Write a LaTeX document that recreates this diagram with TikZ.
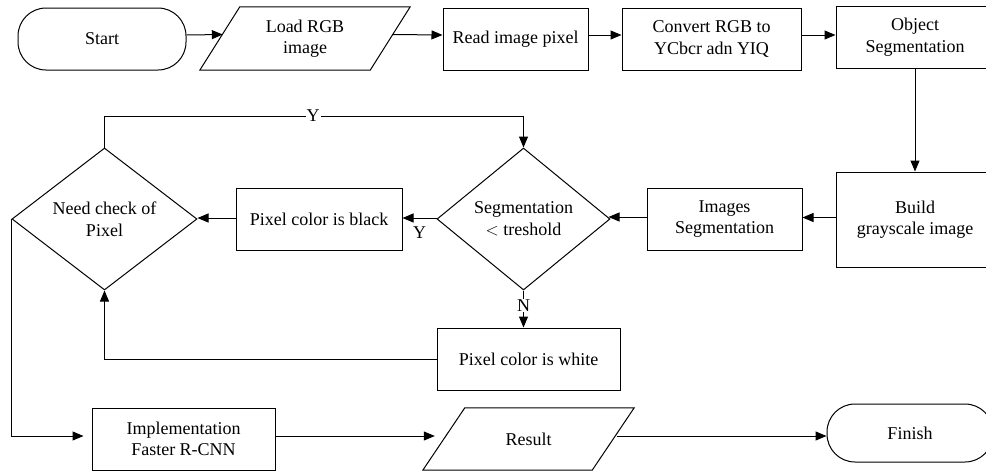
\documentclass[tikz,border=0pt]{standalone}
\usepackage{fontspec}
\setmainfont{Liberation Serif}
\usetikzlibrary{shapes.geometric,arrows.meta,calc}
\begin{document}
\begin{tikzpicture}[x=1pt,y=-1pt,
  every node/.style={font=\fontsize{18}{21.5}\selectfont, align=center},
  box/.style={draw, line width=1pt, rectangle, inner sep=0pt},
  term/.style={draw, line width=1pt, rectangle, rounded corners=28pt, inner sep=0pt},
  pbase/.style={rectangle, inner sep=0pt},
  dia/.style={draw, line width=1pt, diamond, inner sep=0pt, shape aspect=1.22},
  arr/.style={line width=1pt, -{Triangle[length=11pt,width=9pt]}},
  ln/.style={line width=1pt},
  lab/.style={fill=white, inner sep=1pt}]
\useasboundingbox (0,0) rectangle (986,472);
% top row
\node[term, minimum width=168pt, minimum height=62pt] (start) at (102,39) {Start};
\node[pbase, minimum width=170pt, minimum height=63pt] (load) at (305,38.5) {Load RGB\\image};
\draw[ln] ($(load.north west)+(20,0)$) -- ($(load.north east)+(20,0)$) -- ($(load.south east)+(-20,0)$) -- ($(load.south west)+(-20,0)$) -- cycle;
\node[box, minimum width=145pt, minimum height=62pt] (read) at (515.5,39) {Read image pixel};
\node[box, minimum width=179pt, minimum height=62pt] (conv) at (711.5,39) {Convert RGB to\\YCbcr adn YIQ};
\node[box, minimum width=158pt, minimum height=62pt] (obj) at (915,37) {Object\\Segmentation};
% middle row
\node[box, minimum width=158pt, minimum height=95pt] (build) at (915,219.5) {Build\\grayscale image};
\node[box, minimum width=155pt, minimum height=62pt] (imgs) at (724.5,219) {Images\\Segmentation};
\node[dia, minimum width=173pt, minimum height=142pt] (seg) at (523.5,219) {Segmentation\\$<$ treshold};
\node[box, minimum width=166pt, minimum height=62pt] (black) at (319,219) {Pixel color is black};
\node[dia, minimum width=185pt, minimum height=142pt] (need) at (104.5,219) {Need check of\\Pixel};
\node[box, minimum width=183pt, minimum height=62pt] (white) at (528.5,359) {Pixel color is white};
% bottom row
\node[box, minimum width=183pt, minimum height=62pt] (impl) at (183.5,439) {Implementation\\Faster R-CNN};
\node[pbase, minimum width=169pt, minimum height=62pt] (res) at (528.5,439) {Result};
\draw[ln] ($(res.north west)+(21,0)$) -- ($(res.north east)+(21,0)$) -- ($(res.south east)+(-21,0)$) -- ($(res.south west)+(-21,0)$) -- cycle;
\node[term, minimum width=166pt, minimum height=58pt] (fin) at (910,433) {Finish};
% connectors
\draw[arr] ($(start.east)+(0,-4)$) -- ($(load.west)+(3,-4)$);
\draw[arr] ($(load.east)+(2,-4)$) -- ($(read.west)+(0,-4)$);
\draw[arr] ($(read.east)+(0,-4)$) -- ($(conv.west)+(0,-4)$);
\draw[arr] ($(conv.east)+(0,-4)$) -- ($(conv.east -| obj.west)+(0,-4)$);
\draw[arr] (obj.south) -- (build.north);
\draw[arr] ($(build.west)+(0,-2)$) -- ($(build.west -| imgs.east)+(0,-2)$);
\draw[arr] ($(imgs.west)+(0,-2)$) -- ($(seg.east)+(-2,-2)$);
\draw[arr] ($(seg.west)+(0,-1)$) -- node[pos=0.5, below=7pt, inner sep=1pt] {Y} ($(black.east)+(0,-1)$);
\draw[arr] ($(black.west)+(0,-1)$) -- ($(need.east)+(0,-1)$);
\coordinate (ly) at (313,116);
\draw[ln] (need.north) |- (ly);
\draw[arr] (ly) -| (seg.north);
\node[lab] at (ly) {Y};
\coordinate (nb) at (seg.south |- white.north);
\draw[arr] (seg.south) -- (nb);
\node[lab, inner sep=0.5pt] at ($(seg.south)!0.4!(nb)$) {N};
\draw[arr] (white.west) -| (need.south);
\draw[arr, shorten >=8pt] (need.west) |- ($(impl.west)+(0,-3)$);
\draw[arr, shorten >=9pt] ($(impl.east)+(0,-3)$) -- ($(res.west)+(0,-3)$);
\draw[arr] ($(res.east)+(4,-3)$) -- ($(res.east -| fin.west)+(0,-3)$);
\end{tikzpicture}
\end{document}
